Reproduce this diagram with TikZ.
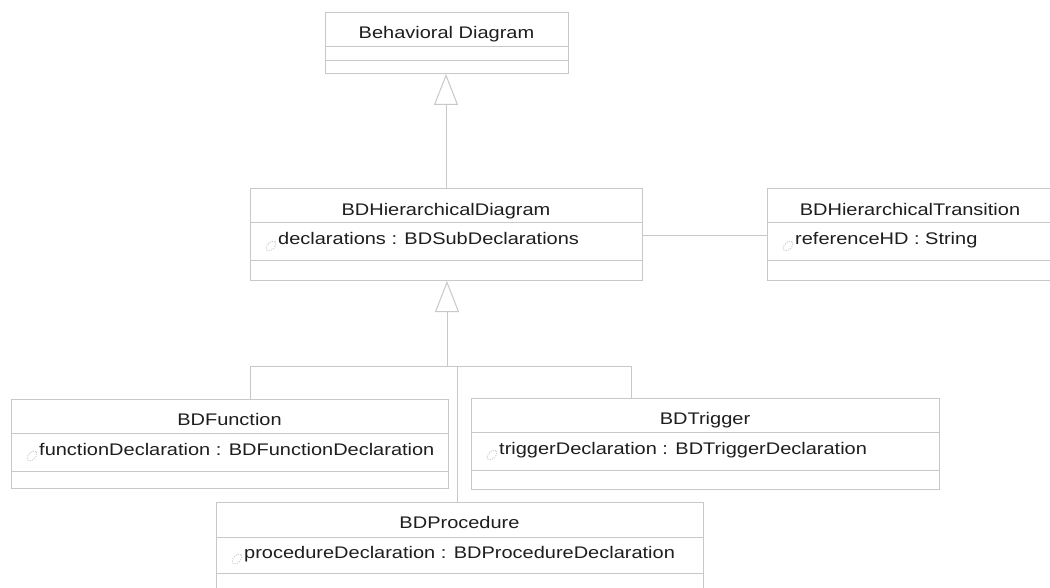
\documentclass[tikz,border=0pt]{standalone}
\usepackage{fontspec}
\setmainfont[FakeStretch=1.19]{Liberation Sans}
\usetikzlibrary{arrows.meta,shapes.geometric}
\definecolor{lineg}{RGB}{200,200,200}
\definecolor{icong}{RGB}{205,205,205}
\definecolor{txt}{RGB}{30,30,30}
\tikzset{
  comp/.style={draw=lineg, line width=1pt, inner sep=0pt, outer sep=0pt, anchor=north west, fill=white},
  nametext/.style={anchor=base, inner sep=0pt, text=txt, font=\fontsize{16.8pt}{20pt}\selectfont},
  attrtext/.style={anchor=base west, inner sep=0pt, text=txt, font=\fontsize{16.8pt}{20pt}\selectfont},
  icon/.style={draw=icong, ellipse, line width=0.9pt, dash pattern=on 1.2pt off 1.2pt, minimum width=12pt, minimum height=7pt, inner sep=0pt, rotate=45},
  gl/.style={draw=lineg, line width=1pt},
  gen/.style={gl, -{Triangle[open, length=31pt, width=24pt, fill=white]}}
}
\begin{document}
\begin{tikzpicture}[x=1pt, y=-1pt]
\useasboundingbox (0,0) rectangle (1050,588);
\clip (0,0) rectangle (1050,588);
\fill[white] (0,0) rectangle (1050,588);

% Behavioral Diagram
\node[comp, minimum width=243pt, minimum height=34pt] (bdN) at (325,13) {};
\node[comp, minimum width=243pt, minimum height=14pt] (bdA) at (bdN.south west) {};
\node[comp, minimum width=243pt, minimum height=13pt] (bdO) at (bdA.south west) {};
\node[nametext] (bdT) at ([yshift=-26pt]bdN.north) {Behavioral Diagram};

% BDHierarchicalDiagram
\node[comp, minimum width=392pt, minimum height=34pt] (bdhN) at (250,189) {};
\node[comp, minimum width=392pt, minimum height=38pt] (bdhA) at (bdhN.south west) {};
\node[comp, minimum width=392pt, minimum height=20pt] (bdhO) at (bdhA.south west) {};
\node[nametext] (bdhT) at ([yshift=-27pt]bdhN.north) {BDHierarchicalDiagram};
\node[icon] (bdhI) at ([xshift=21pt,yshift=-23pt]bdhA.north west) {};
\node[attrtext] (bdhAt) at ([xshift=28pt,yshift=-22pt]bdhA.north west) {declarations : BDSubDeclarations};

% BDHierarchicalTransition
\node[comp, minimum width=286pt, minimum height=34pt] (bhtN) at (767,189) {};
\node[comp, minimum width=286pt, minimum height=38pt] (bhtA) at (bhtN.south west) {};
\node[comp, minimum width=286pt, minimum height=20pt] (bhtO) at (bhtA.south west) {};
\node[nametext] (bhtT) at ([yshift=-27pt]bhtN.north) {BDHierarchicalTransition};
\node[icon] (bhtI) at ([xshift=21pt,yshift=-23pt]bhtA.north west) {};
\node[attrtext] (bhtAt) at ([xshift=28pt,yshift=-22pt]bhtA.north west) {referenceHD : String};

% BDFunction
\node[comp, minimum width=437pt, minimum height=34pt] (bdfN) at (11,399) {};
\node[comp, minimum width=437pt, minimum height=38pt] (bdfA) at (bdfN.south west) {};
\node[comp, minimum width=437pt, minimum height=17pt] (bdfO) at (bdfA.south west) {};
\node[nametext] (bdfT) at ([yshift=-26pt]bdfN.north) {BDFunction};
\node[icon] (bdfI) at ([xshift=21pt,yshift=-23pt]bdfA.north west) {};
\node[attrtext] (bdfAt) at ([xshift=28pt,yshift=-22pt]bdfA.north west) {functionDeclaration : BDFunctionDeclaration};

% BDTrigger
\node[comp, minimum width=468pt, minimum height=34pt] (bdtN) at (471,398) {};
\node[comp, minimum width=468pt, minimum height=38pt] (bdtA) at (bdtN.south west) {};
\node[comp, minimum width=468pt, minimum height=19pt] (bdtO) at (bdtA.south west) {};
\node[nametext] (bdtT) at ([yshift=-26pt]bdtN.north) {BDTrigger};
\node[icon] (bdtI) at ([xshift=21pt,yshift=-23pt]bdtA.north west) {};
\node[attrtext] (bdtAt) at ([xshift=28pt,yshift=-22pt]bdtA.north west) {triggerDeclaration : BDTriggerDeclaration};

% BDProcedure
\node[comp, minimum width=487pt, minimum height=35pt] (bdpN) at (216,502) {};
\node[comp, minimum width=487pt, minimum height=36pt] (bdpA) at (bdpN.south west) {};
\node[comp, minimum width=487pt, minimum height=20pt] (bdpO) at (bdpA.south west) {};
\node[nametext] (bdpT) at ([yshift=-26pt]bdpN.north) {BDProcedure};
\node[icon] (bdpI) at ([xshift=21pt,yshift=-22pt]bdpA.north west) {};
\node[attrtext] (bdpAt) at ([xshift=28pt,yshift=-21pt]bdpA.north west) {procedureDeclaration : BDProcedureDeclaration};

% generalization BDHierarchicalDiagram -> Behavioral Diagram
\draw[gen] (bdhN.north) -- (bdhN.north |- bdO.south);

% association
\draw[gl] ([yshift=-13pt]bdhA.north east) -- ([yshift=-13pt]bhtA.north west);

% generalization tree
\coordinate (j) at (447,366);
\coordinate (jl) at (250,366);
\coordinate (jr) at (631,366);
\coordinate (jp) at (457,366);
\draw[gen] (j) -- (j |- bdhO.south);
\draw[gl] (jl) -- (jr);
\draw[gl] (jl) -- (jl |- bdfN.north);
\draw[gl] (jr) -- (jr |- bdtN.north);
\draw[gl] (jp) -- (jp |- bdpN.north);
\end{tikzpicture}
\end{document}
